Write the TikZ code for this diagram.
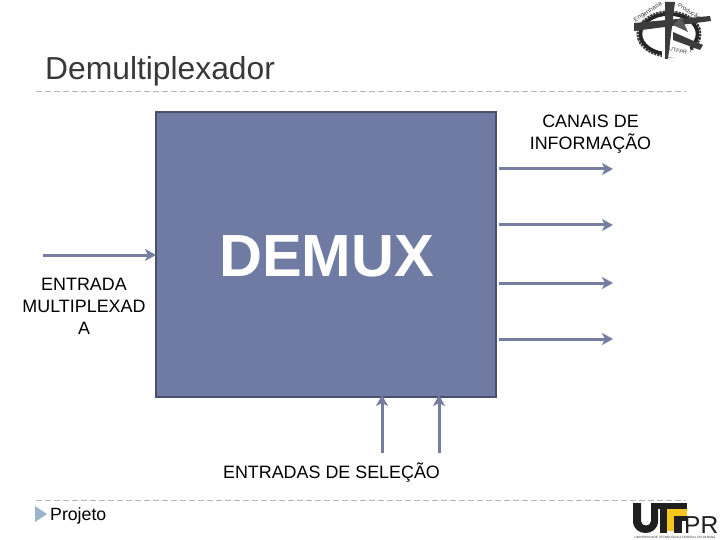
\documentclass[tikz,border=0pt]{standalone}
\usepackage{fontspec}
\setmainfont{Liberation Sans}
\usetikzlibrary{arrows.meta}
\definecolor{boxfill}{HTML}{6F7BA3}
\definecolor{boxedge}{HTML}{4A5069}
\definecolor{wire}{HTML}{757E9E}
\definecolor{rulec}{HTML}{B4B8BE}
\definecolor{bullet}{HTML}{9DB3CC}
\definecolor{logod}{HTML}{3C3C3C}
\definecolor{utyellow}{HTML}{F5C61B}
\tikzset{
  x=1pt,y=-1pt,
  wirearrow/.style={draw=wire,line width=3pt,-{Stealth[length=11pt,width=12pt,inset=3pt]}},
  lab/.style={font=\fontsize{17.9}{22}\selectfont,align=center,text=black,inner sep=0pt},
  rulel/.style={draw=rulec,line width=0.8pt,dash pattern=on 6pt off 3pt},
}
\begin{document}
\begin{tikzpicture}
\useasboundingbox (0,0) rectangle (720,540);
% header and footer rules
\coordinate (r1a) at (36,91); \coordinate (r1b) at (686,91);
\coordinate (r2a) at (36,500); \coordinate (r2b) at (686,500);
\draw[rulel] (r1a) -- (r1b);
\draw[rulel] (r2a) -- (r2b);
\node[anchor=base west,inner sep=0pt,font=\fontsize{31.8}{34}\selectfont,text=black!78] (title) at (45,80) {Demultiplexador};
% main box
\node[draw=boxedge,fill=boxfill,line width=2.4pt,minimum width=340pt,minimum height=285pt,inner sep=0pt] (box) at (326,254.5) {};
\node[font=\bfseries\fontsize{59.5}{62}\selectfont,text=white,inner sep=0pt,anchor=base] (demux) at (326.5,276) {DEMUX};
% labels
\node[lab] (canais) at (590.5,134.5) {CANAIS DE\\INFORMAÇÃO};
\node[lab] (entrada) at (84,306) {ENTRADA\\MULTIPLEXAD\\A};
\node[lab,anchor=base] (selecao) at (331.5,478) {ENTRADAS DE SELEÇÃO};
% input
\coordinate (inA) at (43,255); \coordinate (inB) at (156,255);
\draw[wirearrow] (inA) -- (inB);
% outputs
\coordinate (o1a) at (499,169); \coordinate (o1b) at (613,169);
\coordinate (o2a) at (499,225); \coordinate (o2b) at (613,225);
\coordinate (o3a) at (499,283); \coordinate (o3b) at (613,283);
\coordinate (o4a) at (499,339); \coordinate (o4b) at (613,339);
\draw[wirearrow] (o1a) -- (o1b);
\draw[wirearrow] (o2a) -- (o2b);
\draw[wirearrow] (o3a) -- (o3b);
\draw[wirearrow] (o4a) -- (o4b);
% selection inputs
\coordinate (s1a) at (382,453); \coordinate (s1b) at (382,395);
\coordinate (s2a) at (439,453); \coordinate (s2b) at (439,395);
\draw[wirearrow] (s1a) -- (s1b);
\draw[wirearrow] (s2a) -- (s2b);
% footer
\fill[bullet] (35,506) -- (47,514) -- (35,522) -- cycle;
\node[anchor=base west,inner sep=0pt,font=\fontsize{17.7}{20}\selectfont] (proj) at (50,520) {Projeto};
% top-right emblem
\draw[logod,line width=5pt,dash pattern=on 2.2pt off 0.9pt] (669,34) ellipse [x radius=30,y radius=21];
\draw[black!85,line width=3.5pt] (669,34) ellipse [x radius=28.5,y radius=20];
\fill[white] (662,46) rectangle (690,57);
\node[rotate=33,font=\fontsize{6.3}{7}\selectfont,text=logod,inner sep=0pt] (lg1) at (648,12) {Engenharia};
\node[rotate=-30,font=\fontsize{6}{7}\selectfont,text=logod,inner sep=0pt] (lg2) at (689,12) {Produção};
\node[font=\fontsize{5.5}{6}\selectfont,text=logod,rotate=-12,inner sep=0pt] (lg3) at (678,51) {UTFPR};
\fill[logod] (665,2) -- (675,2) -- (668,59) -- (665,59) -- cycle;
\fill[logod] (634,23) -- (710,16) -- (711,21) -- (634,31) -- cycle;
\fill[logod] (673,32) -- (703,45) -- (700,50) -- (673,40) -- cycle;
\fill[logod!85] (673,25) -- (681,17) -- (688,32) -- cycle;
% bottom-right logo
\fill[black!88] (633,503) -- (641,503) -- (641,521) .. controls (641,527) and (651,527) .. (651,521) -- (651,503) -- (658,503) -- (658,521) .. controls (658,537) and (633,537) .. (633,521) -- cycle;
\fill[black!88] (651,503) rectangle (687,509);
\fill[black!88] (660,509) rectangle (667,533);
\fill[utyellow] (667,509) rectangle (674,531);
\fill[utyellow] (674,509) rectangle (687,516);
\fill[black!88] (674,516) rectangle (687,521);
\fill[black!88] (674,521) rectangle (682,533);
\node[anchor=base west,inner sep=0pt,font=\fontsize{24.5}{26}\selectfont,text=black!88] (pr) at (684,533) {PR};
\node[anchor=base,inner sep=0pt,font=\fontsize{3.1}{4}\selectfont,text=black!80] (uni) at (675,538.5) {UNIVERSIDADE TECNOLÓGICA FEDERAL DO PARANÁ};
\end{tikzpicture}
\end{document}
